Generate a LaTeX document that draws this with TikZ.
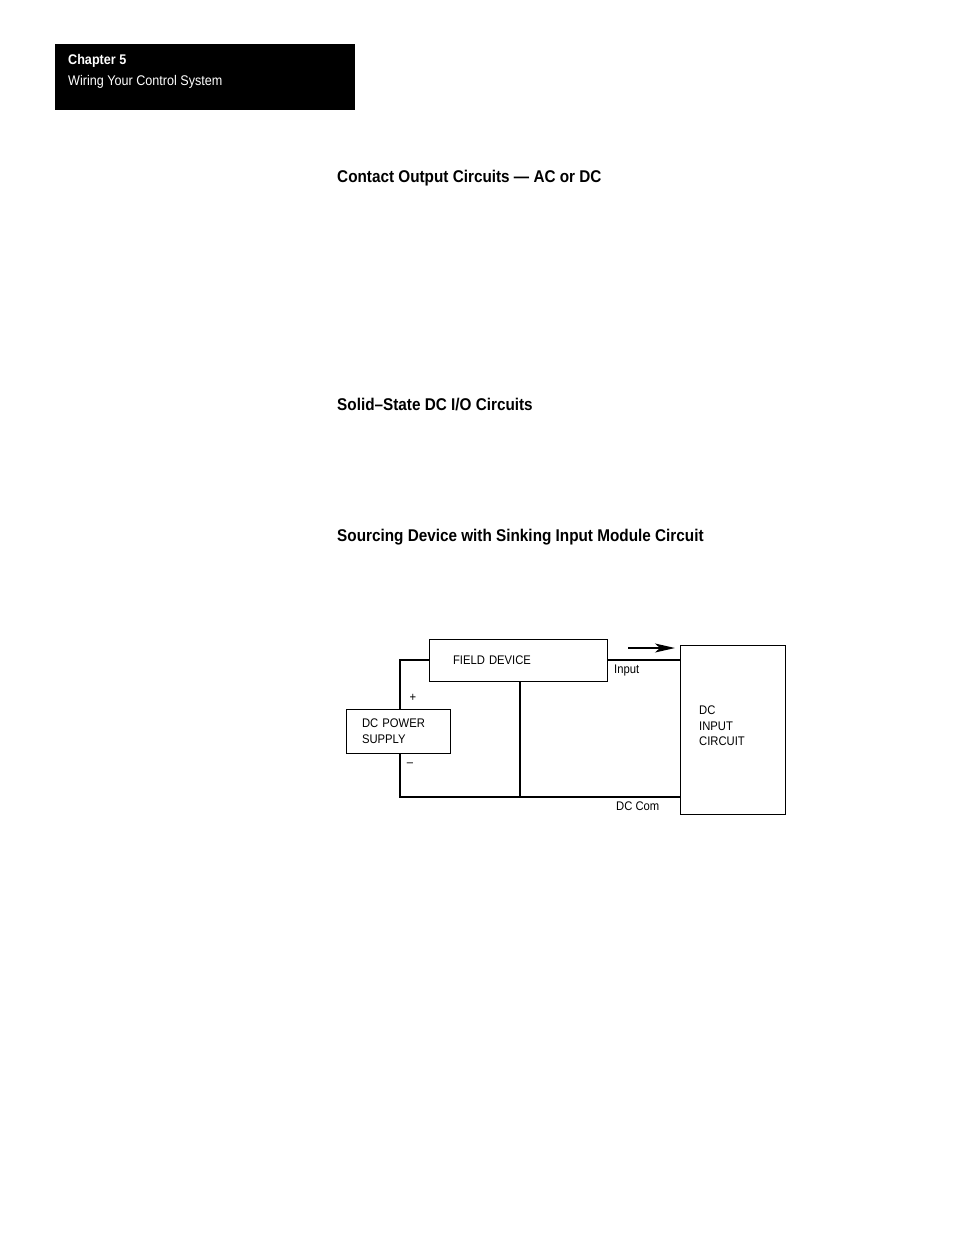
\documentclass[tikz,border=0pt]{standalone}
\usepackage{fontspec}
\setmainfont{Liberation Sans}
\newfontfamily\condfont{Liberation Sans}[FakeStretch=0.9]
\usetikzlibrary{arrows.meta, positioning}

\begin{document}
\begin{tikzpicture}[x=1pt, y=-1pt,
    box/.style={draw, line width=1pt, inner ysep=0pt, align=left, font=\condfont\fontsize{12.5}{15.5}\selectfont},
    wire/.style={line width=2pt},
    lbl/.style={inner sep=0pt, font=\condfont\fontsize{12.5}{15.5}\selectfont},
    heading/.style={anchor=west, inner sep=0pt, font=\condfont\bfseries\fontsize{17}{20}\selectfont}]
    \useasboundingbox (0,0) rectangle (954,1235);
    % page header
    \fill (55,44) rectangle (355,110);
    \node[anchor=base west, inner sep=0pt, text=white, font=\condfont\bfseries\fontsize{14}{16}\selectfont] (chap) at (68,64) {Chapter 5};
    \node[anchor=base west, inner sep=0pt, text=white, font=\condfont\fontsize{14}{16}\selectfont] (chaptitle) at (68,85) {Wiring Your Control System};
    % headings
    \node[heading] (h1) at (337,178.5) {Contact Output Circuits — AC or DC};
    \node[heading] (h2) at (337,404.5) {Solid–State DC I/O Circuits};
    \node[heading] (h3) at (337,537.5) {Sourcing Device with Sinking Input Module Circuit};
    % circuit
    \node[box, inner xsep=24pt, text width=130pt, minimum height=42pt] (fd) at (518,660) {FIELD DEVICE};
    \node[box, inner xsep=16pt, text width=72pt, minimum height=44pt] (ps) at (398,731) {DC POWER\\SUPPLY};
    \node[box, line width=0.8pt, minimum width=105pt, minimum height=169pt] (dci) at (732.5,729.5) {};
    \node[lbl, anchor=west, align=left] (dcitext) at (699,726) {DC\\INPUT\\CIRCUIT};
    \coordinate (com) at (dci.west |- 0,797);
    \draw[wire] (fd.west) -| ([xshift=2pt]ps.north);
    \draw[wire] ([xshift=2pt]ps.south) |- (com);
    \draw[wire] ([xshift=2pt]fd.south) -- ([xshift=2pt]fd.south |- com);
    \draw[wire] (fd.east) -- (dci.west |- fd.east);
    \coordinate (arrS) at (628,648);
    \coordinate (arrE) at (675,648);
    \draw[line width=1.3pt, -{Stealth[length=20pt, width=9pt, inset=5pt]}] (arrS) -- (arrE);
    \node[lbl] (plus) at (413,698) {+};
    \node[lbl] (minus) at (410,765) {–};
    \node[lbl, anchor=west] (inlbl) at (614,670) {Input};
    \node[lbl, anchor=west] (comlbl) at (616,806) {DC Com};
\end{tikzpicture}
\end{document}
